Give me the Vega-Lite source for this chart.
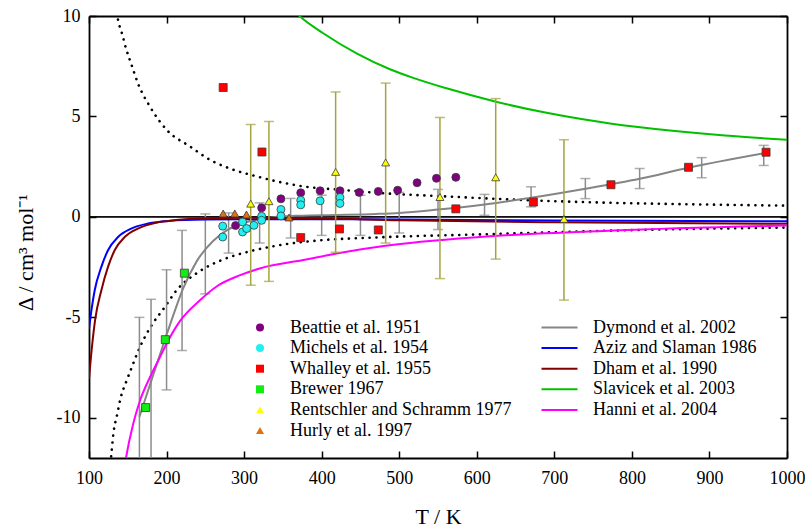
{
  "$schema": "https://vega.github.io/schema/vega-lite/v6.json",
  "width": 698,
  "height": 442,
  "autosize": {"type": "none"},
  "padding": {"left": 89, "top": 16, "right": 18, "bottom": 71},
  "background": "white",
  "config": {
    "view": {"stroke": null},
    "font": "Liberation Serif",
    "axis": {"domain": true, "domainColor": "black", "domainWidth": 1.8, "ticks": true, "tickColor": "black", "tickWidth": 1.5, "tickSize": -7, "grid": false, "labelFlush": false, "labelFont": "Liberation Serif", "labelFontSize": 18, "labelColor": "black", "titleFont": "Liberation Serif", "titleFontSize": 22, "titleFontWeight": "normal", "titleColor": "black", "zindex": 2},
    "legend": {"labelFont": "Liberation Serif", "labelFontSize": 18, "labelColor": "black", "padding": 0, "labelLimit": 400}
  },
  "resolve": {"axis": {"x": "independent", "y": "independent"}},
  "datasets": {
    "pts": [
      {"src": "Beattie et al. 1951", "T": 289, "d": -0.43},
      {"src": "Beattie et al. 1951", "T": 322.6, "d": 0.45},
      {"src": "Beattie et al. 1951", "T": 347.5, "d": 0.9},
      {"src": "Beattie et al. 1951", "T": 373, "d": 1.2},
      {"src": "Beattie et al. 1951", "T": 398, "d": 1.3},
      {"src": "Beattie et al. 1951", "T": 423.6, "d": 1.3},
      {"src": "Beattie et al. 1951", "T": 448.5, "d": 1.22},
      {"src": "Beattie et al. 1951", "T": 473, "d": 1.27},
      {"src": "Beattie et al. 1951", "T": 498, "d": 1.33},
      {"src": "Beattie et al. 1951", "T": 523, "d": 1.7},
      {"src": "Beattie et al. 1951", "T": 548, "d": 1.92},
      {"src": "Beattie et al. 1951", "T": 573, "d": 1.97},
      {"src": "Michels et al. 1954", "T": 272.4, "d": -0.46},
      {"src": "Michels et al. 1954", "T": 272.4, "d": -1.0},
      {"src": "Michels et al. 1954", "T": 298, "d": -0.25},
      {"src": "Michels et al. 1954", "T": 298, "d": -0.75},
      {"src": "Michels et al. 1954", "T": 303.3, "d": -0.58},
      {"src": "Michels et al. 1954", "T": 312.7, "d": -0.42},
      {"src": "Michels et al. 1954", "T": 322.6, "d": 0.03},
      {"src": "Michels et al. 1954", "T": 322.6, "d": -0.17},
      {"src": "Michels et al. 1954", "T": 347.5, "d": 0.37},
      {"src": "Michels et al. 1954", "T": 347.5, "d": 0.05},
      {"src": "Michels et al. 1954", "T": 373, "d": 0.83},
      {"src": "Michels et al. 1954", "T": 373, "d": 0.6},
      {"src": "Michels et al. 1954", "T": 398, "d": 0.8},
      {"src": "Michels et al. 1954", "T": 423.6, "d": 0.97},
      {"src": "Michels et al. 1954", "T": 423.6, "d": 0.67},
      {"src": "Whalley et al. 1955", "T": 273, "d": 6.44},
      {"src": "Whalley et al. 1955", "T": 323, "d": 3.23},
      {"src": "Whalley et al. 1955", "T": 373, "d": -1.03},
      {"src": "Whalley et al. 1955", "T": 423, "d": -0.6},
      {"src": "Whalley et al. 1955", "T": 473, "d": -0.65},
      {"src": "Whalley et al. 1955", "T": 573, "d": 0.4},
      {"src": "Whalley et al. 1955", "T": 673, "d": 0.74},
      {"src": "Whalley et al. 1955", "T": 773, "d": 1.6},
      {"src": "Whalley et al. 1955", "T": 873, "d": 2.47},
      {"src": "Whalley et al. 1955", "T": 973, "d": 3.22},
      {"src": "Brewer 1967", "T": 173, "d": -9.49},
      {"src": "Brewer 1967", "T": 198.4, "d": -6.11},
      {"src": "Brewer 1967", "T": 223, "d": -2.8},
      {"src": "Rentschler and Schramm 1977", "T": 308.5, "d": 0.66},
      {"src": "Rentschler and Schramm 1977", "T": 332, "d": 0.78},
      {"src": "Rentschler and Schramm 1977", "T": 418, "d": 2.24},
      {"src": "Rentschler and Schramm 1977", "T": 482.5, "d": 2.71},
      {"src": "Rentschler and Schramm 1977", "T": 552.5, "d": 0.99},
      {"src": "Rentschler and Schramm 1977", "T": 624.4, "d": 1.97},
      {"src": "Rentschler and Schramm 1977", "T": 712.4, "d": -0.1},
      {"src": "Hurly et al. 1997", "T": 273, "d": 0.17},
      {"src": "Hurly et al. 1997", "T": 288, "d": 0.17},
      {"src": "Hurly et al. 1997", "T": 303, "d": 0.12},
      {"src": "Hurly et al. 1997", "T": 358, "d": -0.03}
    ],
    "curves": [
      {"model": "Dymond et al. 2002", "T": 165, "d": -9.95},
      {"model": "Dymond et al. 2002", "T": 182, "d": -7.96},
      {"model": "Dymond et al. 2002", "T": 198, "d": -6.1},
      {"model": "Dymond et al. 2002", "T": 210, "d": -4.75},
      {"model": "Dymond et al. 2002", "T": 221, "d": -3.6},
      {"model": "Dymond et al. 2002", "T": 239, "d": -2.2},
      {"model": "Dymond et al. 2002", "T": 260, "d": -1.2},
      {"model": "Dymond et al. 2002", "T": 278, "d": -0.66},
      {"model": "Dymond et al. 2002", "T": 300, "d": -0.3},
      {"model": "Dymond et al. 2002", "T": 330, "d": -0.05},
      {"model": "Dymond et al. 2002", "T": 370, "d": 0.06},
      {"model": "Dymond et al. 2002", "T": 420, "d": 0.1},
      {"model": "Dymond et al. 2002", "T": 470, "d": 0.15},
      {"model": "Dymond et al. 2002", "T": 500, "d": 0.2},
      {"model": "Dymond et al. 2002", "T": 550, "d": 0.37},
      {"model": "Dymond et al. 2002", "T": 610, "d": 0.62},
      {"model": "Dymond et al. 2002", "T": 670, "d": 0.95},
      {"model": "Dymond et al. 2002", "T": 740, "d": 1.4},
      {"model": "Dymond et al. 2002", "T": 810, "d": 1.9},
      {"model": "Dymond et al. 2002", "T": 873, "d": 2.45},
      {"model": "Dymond et al. 2002", "T": 975, "d": 3.2},
      {"model": "Aziz and Slaman 1986", "T": 100, "d": -5.57},
      {"model": "Aziz and Slaman 1986", "T": 103.5, "d": -4.55},
      {"model": "Aziz and Slaman 1986", "T": 107.3, "d": -3.66},
      {"model": "Aziz and Slaman 1986", "T": 115.9, "d": -2.49},
      {"model": "Aziz and Slaman 1986", "T": 124.5, "d": -1.66},
      {"model": "Aziz and Slaman 1986", "T": 137.4, "d": -1.0},
      {"model": "Aziz and Slaman 1986", "T": 154.5, "d": -0.58},
      {"model": "Aziz and Slaman 1986", "T": 176, "d": -0.33},
      {"model": "Aziz and Slaman 1986", "T": 202, "d": -0.2},
      {"model": "Aziz and Slaman 1986", "T": 250, "d": -0.13},
      {"model": "Aziz and Slaman 1986", "T": 300, "d": -0.12},
      {"model": "Aziz and Slaman 1986", "T": 400, "d": -0.12},
      {"model": "Aziz and Slaman 1986", "T": 500, "d": -0.13},
      {"model": "Aziz and Slaman 1986", "T": 700, "d": -0.18},
      {"model": "Aziz and Slaman 1986", "T": 1000, "d": -0.22},
      {"model": "Dham et al. 1990", "T": 100, "d": -8.06},
      {"model": "Dham et al. 1990", "T": 104, "d": -6.4},
      {"model": "Dham et al. 1990", "T": 108, "d": -5.1},
      {"model": "Dham et al. 1990", "T": 115.9, "d": -3.66},
      {"model": "Dham et al. 1990", "T": 124.5, "d": -2.49},
      {"model": "Dham et al. 1990", "T": 133.1, "d": -1.66},
      {"model": "Dham et al. 1990", "T": 146, "d": -1.0},
      {"model": "Dham et al. 1990", "T": 163, "d": -0.58},
      {"model": "Dham et al. 1990", "T": 185, "d": -0.3},
      {"model": "Dham et al. 1990", "T": 202, "d": -0.2},
      {"model": "Dham et al. 1990", "T": 250, "d": -0.07},
      {"model": "Dham et al. 1990", "T": 300, "d": -0.04},
      {"model": "Dham et al. 1990", "T": 400, "d": -0.07},
      {"model": "Dham et al. 1990", "T": 500, "d": -0.17},
      {"model": "Dham et al. 1990", "T": 700, "d": -0.27},
      {"model": "Dham et al. 1990", "T": 1000, "d": -0.34},
      {"model": "Slavicek et al. 2003", "T": 366, "d": 10.2},
      {"model": "Slavicek et al. 2003", "T": 370, "d": 10.05},
      {"model": "Slavicek et al. 2003", "T": 402, "d": 9.14},
      {"model": "Slavicek et al. 2003", "T": 445, "d": 8.14},
      {"model": "Slavicek et al. 2003", "T": 488, "d": 7.35},
      {"model": "Slavicek et al. 2003", "T": 518, "d": 6.92},
      {"model": "Slavicek et al. 2003", "T": 561, "d": 6.4},
      {"model": "Slavicek et al. 2003", "T": 626, "d": 5.72},
      {"model": "Slavicek et al. 2003", "T": 690, "d": 5.18},
      {"model": "Slavicek et al. 2003", "T": 776, "d": 4.63},
      {"model": "Slavicek et al. 2003", "T": 849, "d": 4.3},
      {"model": "Slavicek et al. 2003", "T": 920, "d": 4.05},
      {"model": "Slavicek et al. 2003", "T": 1000, "d": 3.84},
      {"model": "Hanni et al. 2004", "T": 146, "d": -12.4},
      {"model": "Hanni et al. 2004", "T": 147.7, "d": -12.0},
      {"model": "Hanni et al. 2004", "T": 157, "d": -10.3},
      {"model": "Hanni et al. 2004", "T": 165.8, "d": -9.14},
      {"model": "Hanni et al. 2004", "T": 178.6, "d": -7.98},
      {"model": "Hanni et al. 2004", "T": 191.5, "d": -6.98},
      {"model": "Hanni et al. 2004", "T": 200, "d": -6.31},
      {"model": "Hanni et al. 2004", "T": 217, "d": -5.2},
      {"model": "Hanni et al. 2004", "T": 243, "d": -4.15},
      {"model": "Hanni et al. 2004", "T": 265, "d": -3.45},
      {"model": "Hanni et al. 2004", "T": 295, "d": -2.9},
      {"model": "Hanni et al. 2004", "T": 320, "d": -2.57},
      {"model": "Hanni et al. 2004", "T": 380, "d": -2.12},
      {"model": "Hanni et al. 2004", "T": 436, "d": -1.71},
      {"model": "Hanni et al. 2004", "T": 480, "d": -1.45},
      {"model": "Hanni et al. 2004", "T": 604, "d": -1.0},
      {"model": "Hanni et al. 2004", "T": 776, "d": -0.68},
      {"model": "Hanni et al. 2004", "T": 1000, "d": -0.43}
    ],
    "dotted": [
      {"band": "upper", "T": 134.5, "d": 10.5},
      {"band": "upper", "T": 136, "d": 10.1},
      {"band": "upper", "T": 138, "d": 9.7},
      {"band": "upper", "T": 142, "d": 9.2},
      {"band": "upper", "T": 148, "d": 8.35},
      {"band": "upper", "T": 155, "d": 7.55},
      {"band": "upper", "T": 163.6, "d": 6.6},
      {"band": "upper", "T": 178.6, "d": 5.49},
      {"band": "upper", "T": 200, "d": 4.34},
      {"band": "upper", "T": 230, "d": 3.51},
      {"band": "upper", "T": 258, "d": 2.8},
      {"band": "upper", "T": 286, "d": 2.35},
      {"band": "upper", "T": 316, "d": 2.02},
      {"band": "upper", "T": 342, "d": 1.77},
      {"band": "upper", "T": 376, "d": 1.52},
      {"band": "upper", "T": 428, "d": 1.34},
      {"band": "upper", "T": 475, "d": 1.19},
      {"band": "upper", "T": 561, "d": 1.02},
      {"band": "upper", "T": 647, "d": 0.86},
      {"band": "upper", "T": 776, "d": 0.7},
      {"band": "upper", "T": 905, "d": 0.61},
      {"band": "upper", "T": 1000, "d": 0.56},
      {"band": "lower", "T": 126.5, "d": -12.6},
      {"band": "lower", "T": 128.4, "d": -11.97},
      {"band": "lower", "T": 131.4, "d": -10.8},
      {"band": "lower", "T": 136.5, "d": -9.8},
      {"band": "lower", "T": 140.9, "d": -9.0},
      {"band": "lower", "T": 148.6, "d": -8.14},
      {"band": "lower", "T": 155, "d": -7.5},
      {"band": "lower", "T": 162.3, "d": -6.78},
      {"band": "lower", "T": 171.3, "d": -6.03},
      {"band": "lower", "T": 182.9, "d": -5.27},
      {"band": "lower", "T": 197.1, "d": -4.52},
      {"band": "lower", "T": 213, "d": -3.65},
      {"band": "lower", "T": 243, "d": -2.7},
      {"band": "lower", "T": 273, "d": -2.12},
      {"band": "lower", "T": 307.6, "d": -1.71},
      {"band": "lower", "T": 342, "d": -1.43},
      {"band": "lower", "T": 393.6, "d": -1.18},
      {"band": "lower", "T": 466, "d": -1.03},
      {"band": "lower", "T": 604, "d": -0.87},
      {"band": "lower", "T": 720, "d": -0.74},
      {"band": "lower", "T": 776, "d": -0.68},
      {"band": "lower", "T": 1000, "d": -0.53}
    ],
    "gbars": [
      {"T": 165, "hi": -5.0, "lo": -18},
      {"T": 180, "hi": -4.1, "lo": -13},
      {"T": 200, "hi": -2.63, "lo": -8.61},
      {"T": 220, "hi": -0.67, "lo": -6.65},
      {"T": 250, "hi": 0.15, "lo": -3.83},
      {"T": 280, "hi": 0.2, "lo": -1.8},
      {"T": 320, "hi": 0.7, "lo": -1.3},
      {"T": 360, "hi": 0.92, "lo": -1.05},
      {"T": 400, "hi": 1.08, "lo": -0.92},
      {"T": 450, "hi": 1.08, "lo": -0.92},
      {"T": 500, "hi": 1.22, "lo": -0.8},
      {"T": 550, "hi": 1.37, "lo": -0.63},
      {"T": 610, "hi": 1.12, "lo": 0.08},
      {"T": 670, "hi": 1.5, "lo": 0.5},
      {"T": 740, "hi": 1.91, "lo": 0.91},
      {"T": 810, "hi": 2.41, "lo": 1.41},
      {"T": 890, "hi": 2.95, "lo": 1.95},
      {"T": 970, "hi": 3.56, "lo": 2.56}
    ],
    "ybars": [
      {"T": 308.5, "hi": 4.6, "lo": -3.4},
      {"T": 332, "hi": 4.75, "lo": -3.21},
      {"T": 418, "hi": 6.22, "lo": -1.76},
      {"T": 482.5, "hi": 6.66, "lo": -1.3},
      {"T": 552.5, "hi": 4.95, "lo": -3.07},
      {"T": 624.4, "hi": 5.89, "lo": -2.1},
      {"T": 712.4, "hi": 3.84, "lo": -4.14}
    ]
  },
  "encoding": {
    "x": {"field": "T", "type": "quantitative", "scale": {"domain": [100, 1000], "nice": false, "zero": false}, "axis": null},
    "y": {"field": "d", "type": "quantitative", "scale": {"domain": [-12, 10], "nice": false, "zero": false}, "axis": null}
  },
  "layer": [
    {
      "data": {"values": [{"T": 100, "d": 0}, {"T": 1000, "d": 0}]},
      "mark": {"type": "line", "color": "black", "strokeWidth": 1.3},
      "encoding": {
        "x": {"field": "T", "type": "quantitative", "scale": {"domain": [100, 1000], "nice": false, "zero": false},
          "axis": {"orient": "bottom", "values": [100, 200, 300, 400, 500, 600, 700, 800, 900, 1000], "labelExpr": "datum.value + ''", "title": "T / K", "labelPadding": 18, "titleY": 65, "titleBaseline": "alphabetic"}},
        "y": {"field": "d", "type": "quantitative", "scale": {"domain": [-12, 10], "nice": false, "zero": false},
          "axis": {"orient": "left", "values": [-10, -5, 0, 5, 10], "title": "Δ / cm³ mol⁻¹", "labelPadding": 16, "labelExpr": "datum.value + ''", "titleX": -64, "titleY": 236, "titleBaseline": "middle", "titleAngle": 270, "titleAlign": "center"}}
      }
    },
    {
      "data": {"values": [{"T": 100, "d": 0}, {"T": 1000, "d": 0}]},
      "mark": {"type": "line", "color": "black", "strokeWidth": 1.3},
      "encoding": {
        "x": {"field": "T", "type": "quantitative", "scale": {"domain": [100, 1000], "nice": false, "zero": false},
          "axis": {"orient": "top", "values": [100, 200, 300, 400, 500, 600, 700, 800, 900, 1000], "labels": false, "title": null}},
        "y": {"field": "d", "type": "quantitative", "scale": {"domain": [-12, 10], "nice": false, "zero": false},
          "axis": {"orient": "right", "values": [-10, -5, 0, 5, 10], "labels": false, "title": null}}
      }
    },
    {
      "data": {"name": "dotted"},
      "mark": {"type": "line", "color": "black", "strokeWidth": 2.6, "strokeCap": "round", "strokeDash": [0.1, 6.8], "interpolate": "monotone", "clip": true},
      "encoding": {"detail": {"field": "band"}}
    },
    {
      "data": {"name": "gbars"},
      "mark": {"type": "rule", "color": "#8c8c8c", "strokeWidth": 1.5, "clip": true},
      "encoding": {"y": {"field": "hi", "type": "quantitative", "scale": {"domain": [-12, 10], "nice": false, "zero": false}, "axis": null}, "y2": {"field": "lo"}}
    },
    {
      "data": {"name": "gbars"},
      "mark": {"type": "tick", "orient": "horizontal", "color": "#8c8c8c", "size": 10, "thickness": 1.5, "clip": true},
      "encoding": {"y": {"field": "hi", "type": "quantitative", "scale": {"domain": [-12, 10], "nice": false, "zero": false}, "axis": null}}
    },
    {
      "data": {"name": "gbars"},
      "transform": [{"filter": "datum.lo > -12"}],
      "mark": {"type": "tick", "orient": "horizontal", "color": "#8c8c8c", "size": 10, "thickness": 1.5, "clip": true},
      "encoding": {"y": {"field": "lo", "type": "quantitative", "scale": {"domain": [-12, 10], "nice": false, "zero": false}, "axis": null}}
    },
    {
      "data": {"name": "curves"},
      "mark": {"type": "line", "strokeWidth": 2, "interpolate": "monotone", "clip": true},
      "encoding": {
        "stroke": {"field": "model", "type": "nominal",
          "scale": {"domain": ["Dymond et al. 2002", "Aziz and Slaman 1986", "Dham et al. 1990", "Slavicek et al. 2003", "Hanni et al. 2004"], "range": ["#858585", "#0000ff", "#800000", "#00c000", "#ff00ff"]},
          "legend": {"orient": "none", "legendX": 461.5, "legendY": 302.5, "title": null, "symbolType": "M-4,0L4,0", "symbolSize": 81, "symbolStrokeWidth": 2, "labelOffset": 24.5, "rowPadding": 2.6}}
      }
    },
    {
      "data": {"name": "ybars"},
      "mark": {"type": "rule", "color": "#a3a33f", "strokeWidth": 1.5, "clip": true},
      "encoding": {"y": {"field": "hi", "type": "quantitative", "scale": {"domain": [-12, 10], "nice": false, "zero": false}, "axis": null}, "y2": {"field": "lo"}}
    },
    {
      "data": {"name": "ybars"},
      "mark": {"type": "tick", "orient": "horizontal", "color": "#a3a33f", "size": 10, "thickness": 1.5, "clip": true},
      "encoding": {"y": {"field": "hi", "type": "quantitative", "scale": {"domain": [-12, 10], "nice": false, "zero": false}, "axis": null}}
    },
    {
      "data": {"name": "ybars"},
      "mark": {"type": "tick", "orient": "horizontal", "color": "#a3a33f", "size": 10, "thickness": 1.5, "clip": true},
      "encoding": {"y": {"field": "lo", "type": "quantitative", "scale": {"domain": [-12, 10], "nice": false, "zero": false}, "axis": null}}
    },
    {
      "data": {"name": "pts"},
      "mark": {"type": "point", "filled": true, "size": 64, "stroke": "#3a3a3a", "strokeWidth": 0.8, "opacity": 1, "clip": true},
      "encoding": {
        "fill": {"field": "src", "type": "nominal",
          "scale": {"domain": ["Beattie et al. 1951", "Michels et al. 1954", "Whalley et al. 1955", "Brewer 1967", "Rentschler and Schramm 1977", "Hurly et al. 1997"], "range": ["#800080", "#22f0f0", "#ff0000", "#11ee11", "#ffff00", "#e07010"]},
          "legend": {"orient": "none", "legendX": 162, "legendY": 302.5, "title": null, "labelOffset": 21, "rowPadding": 2.6, "symbolSize": 64, "symbolStrokeColor": "#3a3a3a", "symbolStrokeWidth": 0.8}},
        "shape": {"field": "src", "type": "nominal",
          "scale": {"domain": ["Beattie et al. 1951", "Michels et al. 1954", "Whalley et al. 1955", "Brewer 1967", "Rentschler and Schramm 1977", "Hurly et al. 1997"], "range": ["circle", "circle", "square", "square", "triangle-up", "triangle-up"]},
          "legend": {"orient": "none", "legendX": 162, "legendY": 302.5, "title": null, "labelOffset": 21, "rowPadding": 2.6, "symbolSize": 64, "symbolStrokeColor": "#3a3a3a", "symbolStrokeWidth": 0.8}}
      }
    }
  ]
}
